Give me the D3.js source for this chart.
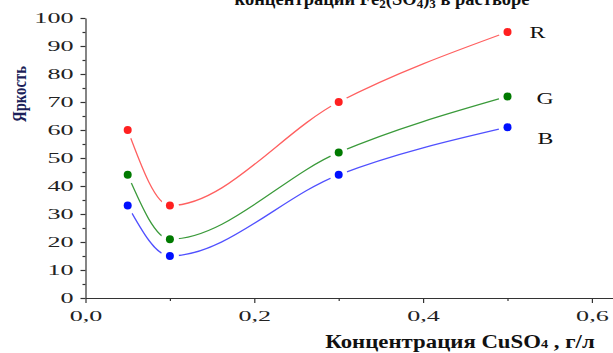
<!DOCTYPE html>
<html><head><meta charset="utf-8">
<script src="https://cdn.jsdelivr.net/npm/d3@7"></script>
<style>body{margin:0;background:#fff}svg{display:block}</style>
</head><body>
<svg id="c" width="613" height="353"></svg>
<script>
const concentrations = [0.05, 0.1, 0.3, 0.5];
const seriesNames = ["R", "G", "B"];
const rValues = [60, 33, 70, 95];
const gValues = [44, 21, 52, 72];
const bValues = [33, 15, 44, 61];
const xTicks = [0, 0.2, 0.4, 0.6];
const xTickLabels = ["0,0", "0,2", "0,4", "0,6"];
const yTicks = [0, 10, 20, 30, 40, 50, 60, 70, 80, 90, 100];
const titleText = "концентрации Fe";
const xLabelText = "Концентрация CuSO";
const yLabelText = "Яркость";

const svg = d3.select("#c");
const x = d3.scaleLinear().domain([0, 0.625]).range([85.5, 613]);
const y = d3.scaleLinear().domain([0, 100]).range([298, 18]);
const serif = "'Liberation Serif','Times New Roman',serif";
const stretch = 1.8;

// title (cut at top)
const t = svg.append("text").attr("x", 382).attr("y", 5).attr("text-anchor", "middle")
  .attr("font-family", serif).attr("font-weight", "bold").attr("font-size", 18.5).attr("fill", "#111");
t.append("tspan").text(titleText);
t.append("tspan").attr("font-size", 13).attr("dy", 3).text("2");
t.append("tspan").attr("dy", -3).text("(SO");
t.append("tspan").attr("font-size", 13).attr("dy", 3).text("4");
t.append("tspan").attr("dy", -3).text(")");
t.append("tspan").attr("font-size", 13).attr("dy", 3).text("3");
t.append("tspan").attr("dy", -3).text(" в растворе");

// axes
const axColor = "#333";
const yAxis = svg.append("g").attr("transform", "translate(85.5,0)")
  .call(d3.axisLeft(y).tickValues(yTicks).tickSize(5).tickSizeOuter(0).tickFormat(d3.format("d")));
svg.append("g").attr("transform", "translate(85.5,0)")
  .call(d3.axisLeft(y).tickValues(d3.range(5, 100, 10)).tickSize(3).tickFormat(""))
  .call(g => g.select(".domain").remove());
const xAxis = svg.append("g").attr("transform", "translate(0,298)")
  .call(d3.axisBottom(x).tickValues(xTicks).tickSize(5).tickSizeOuter(0).tickFormat((d, i) => xTickLabels[i]));
svg.append("g").attr("transform", "translate(0,298)")
  .call(d3.axisBottom(x).tickValues([0.1, 0.3, 0.5]).tickSize(3).tickFormat(""))
  .call(g => g.select(".domain").remove());
svg.selectAll(".domain, .tick line").attr("stroke", axColor).attr("stroke-width", 1.2);
yAxis.selectAll("text").attr("font-family", serif).attr("font-size", 14.5).attr("fill", "#222")
  .attr("x", -12 / stretch).attr("transform", `scale(${stretch},1)`);
xAxis.selectAll("text").attr("font-family", serif).attr("font-size", 14.5).attr("fill", "#222")
  .attr("y", 13).attr("dy", "0.71em").attr("transform", `scale(${stretch},1)`);

// axis labels
svg.append("text").attr("transform", "translate(26,94) rotate(-90)").attr("text-anchor", "middle")
  .attr("font-family", serif).attr("font-weight", "bold").attr("font-size", 18).attr("fill", "#1c1f5a")
  .attr("textLength", 56).attr("lengthAdjust", "spacingAndGlyphs").text(yLabelText);
const xl = svg.append("text").attr("transform", "translate(460,348) scale(1.2,1)").attr("text-anchor", "middle")
  .attr("font-family", serif).attr("font-weight", "bold").attr("font-size", 19).attr("fill", "#111");
xl.append("tspan").text(xLabelText);
xl.append("tspan").attr("font-size", 12).text("4");
xl.append("tspan").text(" , г/л");

// series
const series = [
  {name: seriesNames[0], values: rValues, color: "#ff2020", line: "#ff6060", dx: 22, dy: 0},
  {name: seriesNames[1], values: gValues, color: "#007a00", line: "#3a9a3a", dx: 29, dy: 2},
  {name: seriesNames[2], values: bValues, color: "#0010ff", line: "#5050ff", dx: 30, dy: 11}
];
const line = d3.line().x(d => x(d[0])).y(d => y(d[1])).curve(d3.curveMonotoneX);
series.forEach(s => {
  const pts = concentrations.map((c, i) => [c, s.values[i]]);
  svg.append("path").datum(pts).attr("d", line).attr("fill", "none")
    .attr("stroke", s.line).attr("stroke-width", 1.3);
});
series.forEach(s => {
  const pts = concentrations.map((c, i) => [c, s.values[i]]);
  svg.selectAll(null).data(pts).enter().append("circle")
    .attr("cx", d => x(d[0])).attr("cy", d => y(d[1])).attr("r", 9).attr("fill", "#fff");
});
series.forEach(s => {
  const pts = concentrations.map((c, i) => [c, s.values[i]]);
  svg.selectAll(null).data(pts).enter().append("circle")
    .attr("cx", d => x(d[0])).attr("cy", d => y(d[1])).attr("r", 4).attr("fill", s.color);
  const last = pts[pts.length - 1];
  svg.append("text")
    .attr("transform", `translate(${x(last[0]) + s.dx},${y(last[1]) + 6 + s.dy}) scale(1.4,1)`)
    .attr("font-family", serif).attr("font-size", 17).attr("fill", "#111").text(s.name);
});
</script>
</body></html>
